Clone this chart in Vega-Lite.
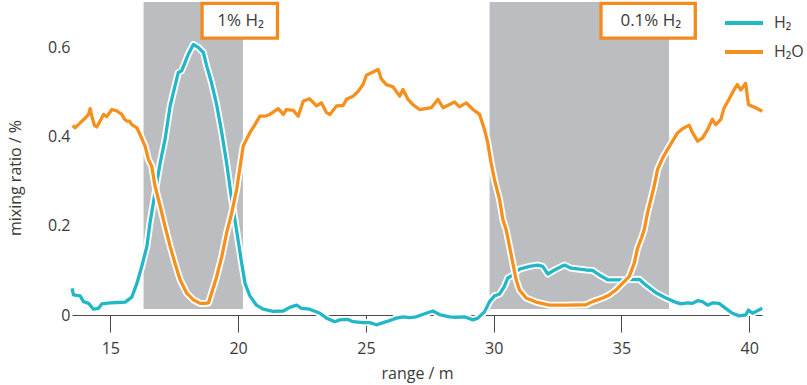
{
  "$schema": "https://vega.github.io/schema/vega-lite/v6.json",
  "autosize": "none",
  "width": 690,
  "height": 312,
  "padding": {"left": 72, "top": 3, "right": 45, "bottom": 70},
  "background": "white",
  "config": {
    "font": "Open Sans",
    "view": {"stroke": null},
    "axis": {"labelFont": "Open Sans", "titleFont": "Open Sans", "labelColor": "#3a3a3a", "titleColor": "#3a3a3a", "grid": false},
    "legend": {"labelFont": "Open Sans"}
  },
  "datasets": {
    "bands": [
      {"x1": 16.3, "x2": 20.19, "y1": 0.0135, "y2": 0.702},
      {"x1": 29.84, "x2": 36.86, "y1": 0.0135, "y2": 0.702}
    ],
    "boxes": [
      {"x1": 18.59, "x2": 21.54, "y1": 0.621, "y2": 0.699, "xm": 20.1, "ym": 0.659, "label": "1% H₂"},
      {"x1": 34.2, "x2": 37.89, "y1": 0.621, "y2": 0.699, "xm": 36.15, "ym": 0.659, "label": "0.1% H₂"}
    ],
    "curves": [
      {"s": "H₂", "x": 13.5, "y": 0.06}, {"s": "H₂", "x": 13.56, "y": 0.045}, {"s": "H₂", "x": 13.82, "y": 0.043}, {"s": "H₂", "x": 13.95, "y": 0.03},
      {"s": "H₂", "x": 14.15, "y": 0.026}, {"s": "H₂", "x": 14.34, "y": 0.013}, {"s": "H₂", "x": 14.54, "y": 0.015}, {"s": "H₂", "x": 14.67, "y": 0.025},
      {"s": "H₂", "x": 14.99, "y": 0.027}, {"s": "H₂", "x": 15.25, "y": 0.028}, {"s": "H₂", "x": 15.58, "y": 0.029}, {"s": "H₂", "x": 15.84, "y": 0.04},
      {"s": "H₂", "x": 16.04, "y": 0.071}, {"s": "H₂", "x": 16.23, "y": 0.109}, {"s": "H₂", "x": 16.43, "y": 0.154}, {"s": "H₂", "x": 16.55, "y": 0.206},
      {"s": "H₂", "x": 16.75, "y": 0.274}, {"s": "H₂", "x": 16.95, "y": 0.341}, {"s": "H₂", "x": 17.14, "y": 0.394}, {"s": "H₂", "x": 17.34, "y": 0.469},
      {"s": "H₂", "x": 17.53, "y": 0.514}, {"s": "H₂", "x": 17.66, "y": 0.544}, {"s": "H₂", "x": 17.79, "y": 0.548}, {"s": "H₂", "x": 17.92, "y": 0.566},
      {"s": "H₂", "x": 18.05, "y": 0.585}, {"s": "H₂", "x": 18.25, "y": 0.607}, {"s": "H₂", "x": 18.45, "y": 0.6}, {"s": "H₂", "x": 18.64, "y": 0.589},
      {"s": "H₂", "x": 18.77, "y": 0.559}, {"s": "H₂", "x": 18.96, "y": 0.521}, {"s": "H₂", "x": 19.16, "y": 0.472}, {"s": "H₂", "x": 19.36, "y": 0.409},
      {"s": "H₂", "x": 19.55, "y": 0.341}, {"s": "H₂", "x": 19.75, "y": 0.259}, {"s": "H₂", "x": 19.94, "y": 0.19}, {"s": "H₂", "x": 20.14, "y": 0.116},
      {"s": "H₂", "x": 20.27, "y": 0.071}, {"s": "H₂", "x": 20.46, "y": 0.043}, {"s": "H₂", "x": 20.72, "y": 0.022}, {"s": "H₂", "x": 20.98, "y": 0.013},
      {"s": "H₂", "x": 21.37, "y": 0.008}, {"s": "H₂", "x": 21.77, "y": 0.009}, {"s": "H₂", "x": 22.02, "y": 0.017}, {"s": "H₂", "x": 22.29, "y": 0.022},
      {"s": "H₂", "x": 22.48, "y": 0.015}, {"s": "H₂", "x": 22.8, "y": 0.013}, {"s": "H₂", "x": 23.2, "y": 0.004}, {"s": "H₂", "x": 23.46, "y": -0.007},
      {"s": "H₂", "x": 23.78, "y": -0.015}, {"s": "H₂", "x": 23.98, "y": -0.011}, {"s": "H₂", "x": 24.3, "y": -0.01}, {"s": "H₂", "x": 24.5, "y": -0.015},
      {"s": "H₂", "x": 24.89, "y": -0.017}, {"s": "H₂", "x": 25.15, "y": -0.017}, {"s": "H₂", "x": 25.41, "y": -0.022}, {"s": "H₂", "x": 25.8, "y": -0.015},
      {"s": "H₂", "x": 26.19, "y": -0.007}, {"s": "H₂", "x": 26.45, "y": -0.004}, {"s": "H₂", "x": 26.71, "y": -0.006}, {"s": "H₂", "x": 26.97, "y": -0.004},
      {"s": "H₂", "x": 27.36, "y": 0.004}, {"s": "H₂", "x": 27.62, "y": 0.009}, {"s": "H₂", "x": 27.88, "y": 0.001}, {"s": "H₂", "x": 28.27, "y": -0.004},
      {"s": "H₂", "x": 28.54, "y": -0.005}, {"s": "H₂", "x": 28.86, "y": -0.004}, {"s": "H₂", "x": 29.19, "y": -0.011}, {"s": "H₂", "x": 29.38, "y": -0.007},
      {"s": "H₂", "x": 29.64, "y": 0.007}, {"s": "H₂", "x": 29.84, "y": 0.03}, {"s": "H₂", "x": 30.03, "y": 0.043}, {"s": "H₂", "x": 30.23, "y": 0.047},
      {"s": "H₂", "x": 30.42, "y": 0.064}, {"s": "H₂", "x": 30.55, "y": 0.083}, {"s": "H₂", "x": 30.75, "y": 0.09}, {"s": "H₂", "x": 31.01, "y": 0.103},
      {"s": "H₂", "x": 31.4, "y": 0.109}, {"s": "H₂", "x": 31.73, "y": 0.112}, {"s": "H₂", "x": 31.92, "y": 0.109}, {"s": "H₂", "x": 32.12, "y": 0.092},
      {"s": "H₂", "x": 32.38, "y": 0.101}, {"s": "H₂", "x": 32.77, "y": 0.112}, {"s": "H₂", "x": 33.03, "y": 0.105}, {"s": "H₂", "x": 33.61, "y": 0.101},
      {"s": "H₂", "x": 33.87, "y": 0.1}, {"s": "H₂", "x": 34.13, "y": 0.09}, {"s": "H₂", "x": 34.46, "y": 0.079}, {"s": "H₂", "x": 35.04, "y": 0.079},
      {"s": "H₂", "x": 35.7, "y": 0.08}, {"s": "H₂", "x": 35.96, "y": 0.067}, {"s": "H₂", "x": 36.35, "y": 0.05}, {"s": "H₂", "x": 36.74, "y": 0.038},
      {"s": "H₂", "x": 37.06, "y": 0.03}, {"s": "H₂", "x": 37.32, "y": 0.025}, {"s": "H₂", "x": 37.59, "y": 0.027}, {"s": "H₂", "x": 37.78, "y": 0.026},
      {"s": "H₂", "x": 37.98, "y": 0.032}, {"s": "H₂", "x": 38.17, "y": 0.03}, {"s": "H₂", "x": 38.37, "y": 0.022}, {"s": "H₂", "x": 38.56, "y": 0.027},
      {"s": "H₂", "x": 38.82, "y": 0.026}, {"s": "H₂", "x": 39.08, "y": 0.015}, {"s": "H₂", "x": 39.34, "y": 0.004}, {"s": "H₂", "x": 39.6, "y": -0.002},
      {"s": "H₂", "x": 39.86, "y": 0.0}, {"s": "H₂", "x": 39.97, "y": 0.011}, {"s": "H₂", "x": 40.13, "y": 0.004}, {"s": "H₂", "x": 40.51, "y": 0.015},

      {"s": "H₂O", "x": 13.52, "y": 0.425}, {"s": "H₂O", "x": 13.62, "y": 0.42}, {"s": "H₂O", "x": 13.82, "y": 0.431}, {"s": "H₂O", "x": 14.02, "y": 0.442},
      {"s": "H₂O", "x": 14.15, "y": 0.45}, {"s": "H₂O", "x": 14.21, "y": 0.463}, {"s": "H₂O", "x": 14.28, "y": 0.445}, {"s": "H₂O", "x": 14.38, "y": 0.425},
      {"s": "H₂O", "x": 14.47, "y": 0.422}, {"s": "H₂O", "x": 14.6, "y": 0.435}, {"s": "H₂O", "x": 14.73, "y": 0.45}, {"s": "H₂O", "x": 14.86, "y": 0.445},
      {"s": "H₂O", "x": 15.06, "y": 0.461}, {"s": "H₂O", "x": 15.25, "y": 0.458}, {"s": "H₂O", "x": 15.45, "y": 0.45}, {"s": "H₂O", "x": 15.55, "y": 0.44},
      {"s": "H₂O", "x": 15.64, "y": 0.435}, {"s": "H₂O", "x": 15.75, "y": 0.435}, {"s": "H₂O", "x": 15.84, "y": 0.427}, {"s": "H₂O", "x": 16.04, "y": 0.42},
      {"s": "H₂O", "x": 16.16, "y": 0.405}, {"s": "H₂O", "x": 16.36, "y": 0.379}, {"s": "H₂O", "x": 16.49, "y": 0.349}, {"s": "H₂O", "x": 16.62, "y": 0.334},
      {"s": "H₂O", "x": 16.75, "y": 0.289}, {"s": "H₂O", "x": 16.95, "y": 0.244}, {"s": "H₂O", "x": 17.14, "y": 0.199}, {"s": "H₂O", "x": 17.34, "y": 0.154},
      {"s": "H₂O", "x": 17.53, "y": 0.116}, {"s": "H₂O", "x": 17.73, "y": 0.079}, {"s": "H₂O", "x": 17.99, "y": 0.049}, {"s": "H₂O", "x": 18.25, "y": 0.034},
      {"s": "H₂O", "x": 18.51, "y": 0.026}, {"s": "H₂O", "x": 18.7, "y": 0.026}, {"s": "H₂O", "x": 18.84, "y": 0.027}, {"s": "H₂O", "x": 18.96, "y": 0.049},
      {"s": "H₂O", "x": 19.16, "y": 0.086}, {"s": "H₂O", "x": 19.36, "y": 0.131}, {"s": "H₂O", "x": 19.55, "y": 0.184}, {"s": "H₂O", "x": 19.75, "y": 0.229},
      {"s": "H₂O", "x": 19.94, "y": 0.281}, {"s": "H₂O", "x": 20.14, "y": 0.356}, {"s": "H₂O", "x": 20.2, "y": 0.379}, {"s": "H₂O", "x": 20.33, "y": 0.394},
      {"s": "H₂O", "x": 20.46, "y": 0.409}, {"s": "H₂O", "x": 20.66, "y": 0.427}, {"s": "H₂O", "x": 20.85, "y": 0.446}, {"s": "H₂O", "x": 21.05, "y": 0.446},
      {"s": "H₂O", "x": 21.24, "y": 0.45}, {"s": "H₂O", "x": 21.57, "y": 0.463}, {"s": "H₂O", "x": 21.77, "y": 0.45}, {"s": "H₂O", "x": 21.89, "y": 0.461},
      {"s": "H₂O", "x": 22.16, "y": 0.459}, {"s": "H₂O", "x": 22.35, "y": 0.446}, {"s": "H₂O", "x": 22.55, "y": 0.48}, {"s": "H₂O", "x": 22.8, "y": 0.485},
      {"s": "H₂O", "x": 23.07, "y": 0.469}, {"s": "H₂O", "x": 23.26, "y": 0.476}, {"s": "H₂O", "x": 23.46, "y": 0.454}, {"s": "H₂O", "x": 23.59, "y": 0.45},
      {"s": "H₂O", "x": 23.85, "y": 0.469}, {"s": "H₂O", "x": 24.11, "y": 0.47}, {"s": "H₂O", "x": 24.24, "y": 0.484}, {"s": "H₂O", "x": 24.5, "y": 0.491},
      {"s": "H₂O", "x": 24.7, "y": 0.502}, {"s": "H₂O", "x": 24.89, "y": 0.517}, {"s": "H₂O", "x": 25.02, "y": 0.538}, {"s": "H₂O", "x": 25.28, "y": 0.545},
      {"s": "H₂O", "x": 25.48, "y": 0.551}, {"s": "H₂O", "x": 25.61, "y": 0.529}, {"s": "H₂O", "x": 25.8, "y": 0.517}, {"s": "H₂O", "x": 26.06, "y": 0.512},
      {"s": "H₂O", "x": 26.32, "y": 0.491}, {"s": "H₂O", "x": 26.45, "y": 0.506}, {"s": "H₂O", "x": 26.65, "y": 0.484}, {"s": "H₂O", "x": 26.84, "y": 0.472},
      {"s": "H₂O", "x": 27.1, "y": 0.461}, {"s": "H₂O", "x": 27.56, "y": 0.465}, {"s": "H₂O", "x": 27.82, "y": 0.484}, {"s": "H₂O", "x": 28.02, "y": 0.465},
      {"s": "H₂O", "x": 28.47, "y": 0.478}, {"s": "H₂O", "x": 28.66, "y": 0.467}, {"s": "H₂O", "x": 28.93, "y": 0.476}, {"s": "H₂O", "x": 29.19, "y": 0.461},
      {"s": "H₂O", "x": 29.45, "y": 0.45}, {"s": "H₂O", "x": 29.64, "y": 0.416}, {"s": "H₂O", "x": 29.77, "y": 0.386}, {"s": "H₂O", "x": 29.9, "y": 0.341},
      {"s": "H₂O", "x": 30.03, "y": 0.304}, {"s": "H₂O", "x": 30.23, "y": 0.259}, {"s": "H₂O", "x": 30.36, "y": 0.214}, {"s": "H₂O", "x": 30.49, "y": 0.191},
      {"s": "H₂O", "x": 30.62, "y": 0.154}, {"s": "H₂O", "x": 30.75, "y": 0.116}, {"s": "H₂O", "x": 30.88, "y": 0.079}, {"s": "H₂O", "x": 31.01, "y": 0.056},
      {"s": "H₂O", "x": 31.27, "y": 0.038}, {"s": "H₂O", "x": 31.66, "y": 0.029}, {"s": "H₂O", "x": 32.18, "y": 0.022}, {"s": "H₂O", "x": 32.83, "y": 0.022},
      {"s": "H₂O", "x": 33.61, "y": 0.023}, {"s": "H₂O", "x": 33.87, "y": 0.03}, {"s": "H₂O", "x": 34.27, "y": 0.038}, {"s": "H₂O", "x": 34.52, "y": 0.045},
      {"s": "H₂O", "x": 34.78, "y": 0.056}, {"s": "H₂O", "x": 35.04, "y": 0.071}, {"s": "H₂O", "x": 35.3, "y": 0.086}, {"s": "H₂O", "x": 35.5, "y": 0.116},
      {"s": "H₂O", "x": 35.63, "y": 0.15}, {"s": "H₂O", "x": 35.76, "y": 0.169}, {"s": "H₂O", "x": 35.89, "y": 0.191}, {"s": "H₂O", "x": 36.02, "y": 0.229},
      {"s": "H₂O", "x": 36.15, "y": 0.259}, {"s": "H₂O", "x": 36.28, "y": 0.289}, {"s": "H₂O", "x": 36.41, "y": 0.326}, {"s": "H₂O", "x": 36.61, "y": 0.352},
      {"s": "H₂O", "x": 36.8, "y": 0.371}, {"s": "H₂O", "x": 37.0, "y": 0.39}, {"s": "H₂O", "x": 37.2, "y": 0.409}, {"s": "H₂O", "x": 37.39, "y": 0.418},
      {"s": "H₂O", "x": 37.65, "y": 0.426}, {"s": "H₂O", "x": 37.78, "y": 0.409}, {"s": "H₂O", "x": 37.98, "y": 0.39}, {"s": "H₂O", "x": 38.17, "y": 0.397},
      {"s": "H₂O", "x": 38.37, "y": 0.416}, {"s": "H₂O", "x": 38.56, "y": 0.439}, {"s": "H₂O", "x": 38.69, "y": 0.427}, {"s": "H₂O", "x": 38.89, "y": 0.439},
      {"s": "H₂O", "x": 39.02, "y": 0.465}, {"s": "H₂O", "x": 39.21, "y": 0.484}, {"s": "H₂O", "x": 39.41, "y": 0.506}, {"s": "H₂O", "x": 39.54, "y": 0.517},
      {"s": "H₂O", "x": 39.67, "y": 0.505}, {"s": "H₂O", "x": 39.86, "y": 0.52}, {"s": "H₂O", "x": 39.97, "y": 0.472}, {"s": "H₂O", "x": 40.25, "y": 0.465},
      {"s": "H₂O", "x": 40.51, "y": 0.457}
    ]
  },
  "layer": [
    {
      "data": {"name": "bands"},
      "mark": {"type": "rect", "color": "#bcbdc1"},
      "encoding": {
        "x": {"field": "x1", "type": "quantitative", "scale": {"domain": [13.5, 40.5], "nice": false, "zero": false},
          "axis": {"title": "range / m", "values": [15, 20, 25, 30, 35, 40], "domain": true, "domainColor": "#4a4a4a", "domainWidth": 1, "tickColor": "#4a4a4a", "tickSize": 17, "tickWidth": 1, "labelFontSize": 16, "labelPadding": 8, "titleFontSize": 16, "titleFontWeight": "normal", "titlePadding": 9}},
        "x2": {"field": "x2"},
        "y": {"field": "y1", "type": "quantitative", "scale": {"domain": [0, 0.7], "nice": false},
          "axis": {"title": "mixing ratio / %", "values": [0, 0.2, 0.4, 0.6], "labelExpr": "datum.value == 0 ? '0' : format(datum.value, '.1f')", "domain": false, "ticks": false, "labelFontSize": 16, "labelPadding": 2, "titleFontSize": 16, "titleFontWeight": "normal", "titleAngle": -90, "titleX": -57, "titleY": 174.5, "titleAlign": "center", "titleBaseline": "middle"}},
        "y2": {"field": "y2"}
      }
    },
    {
      "data": {"name": "curves"},
      "transform": [{"filter": "datum.s == 'H₂'"}],
      "mark": {"type": "line", "color": "white", "strokeWidth": 7, "strokeJoin": "round"},
      "encoding": {"x": {"field": "x", "type": "quantitative"}, "y": {"field": "y", "type": "quantitative"}, "detail": {"field": "s"}}
    },
    {
      "data": {"name": "curves"},
      "transform": [{"filter": "datum.s == 'H₂'"}],
      "mark": {"type": "line", "strokeWidth": 3.3, "strokeJoin": "round"},
      "encoding": {"x": {"field": "x", "type": "quantitative"}, "y": {"field": "y", "type": "quantitative"},
        "color": {"field": "s", "type": "nominal", "scale": {"domain": ["H₂", "H₂O"], "range": ["#22b6c8", "#f5901f"]},
          "legend": {"title": null, "orient": "none", "legendX": 651, "legendY": -1, "symbolType": "stroke", "symbolSize": 1444, "symbolStrokeWidth": 4, "labelFontSize": 16, "labelColor": "#3a3a3a", "labelOffset": 9, "rowPadding": -13}}}
    },
    {
      "data": {"name": "curves"},
      "transform": [{"filter": "datum.s == 'H₂O'"}],
      "mark": {"type": "line", "color": "white", "strokeWidth": 7, "strokeJoin": "round"},
      "encoding": {"x": {"field": "x", "type": "quantitative"}, "y": {"field": "y", "type": "quantitative"}, "detail": {"field": "s"}}
    },
    {
      "data": {"name": "curves"},
      "transform": [{"filter": "datum.s == 'H₂O'"}],
      "mark": {"type": "line", "strokeWidth": 3.3, "strokeJoin": "round"},
      "encoding": {"x": {"field": "x", "type": "quantitative"}, "y": {"field": "y", "type": "quantitative"},
        "color": {"field": "s", "type": "nominal"}}
    },
    {
      "data": {"name": "boxes"},
      "mark": {"type": "rect", "fill": "white", "stroke": "#f28a1e", "strokeWidth": 3.3},
      "encoding": {"x": {"field": "x1", "type": "quantitative"}, "x2": {"field": "x2"}, "y": {"field": "y1", "type": "quantitative"}, "y2": {"field": "y2"}}
    },
    {
      "data": {"name": "boxes"},
      "mark": {"type": "text", "fontSize": 17, "color": "#3a3a3a", "baseline": "middle", "align": "center"},
      "encoding": {"x": {"field": "xm", "type": "quantitative"}, "y": {"field": "ym", "type": "quantitative"}, "text": {"field": "label"}}
    }
  ]
}
